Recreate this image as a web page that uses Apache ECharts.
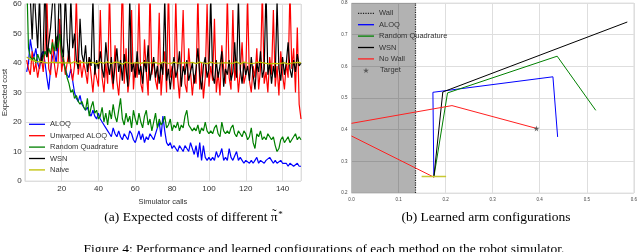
<!DOCTYPE html>
<html><head><meta charset="utf-8">
<script src="https://cdn.jsdelivr.net/npm/echarts@6/dist/echarts.min.js"></script>
<style>html,body{margin:0;padding:0;background:#fff}#c{width:640px;height:252px}</style>
</head><body><div id="c"></div>
<script>
// ---- Left panel: expected cost vs simulator calls ----
const aloq = [37,40,48,44,42,45,40,38,43,44, 40,35,31,38,42,44,40,46,53,42,
  40,38,36,35,38,34,30,28,27,29, 26,25,24,25,23,22,24,22,21,23,
  21,20,19,18,17,16,15,18,16,15, 17,15,14,16,15,14,17,16,14,13,
  15,17,14,16,13,15,14,16,15,14, 16,18,20,15,22,17,13,12,13,11,
  12,11,10,12,11,10,12,11,10,13, 13,9,12,8,13,7,12,8,7,8,
  7,8,7,10,8,9,11,7,8,7, 11,8,7,7,10,7,8,7,6,7,
  7,6,7,6,7,8,6,7,7,6, 7,7,8,7,6,7,6,6,7,6,
  6,6,5,6,6,5,5,6,5,5];
const unwarped = [41,38,36,44,37,40,35,39,42,37, 45,62,38,36,48,40,35,39,55,37,
  42,36,40,44,38,34,39,63,36,41, 35,40,37,33,42,36,30,38,35,32,
  58,35,30,40,33,65,36,31,46,34, 29,38,70,33,45,30,36,58,31,40,
  35,62,33,30,48,37,29,65,36,41, 34,31,57,29,38,44,30,66,35,39,
  31,62,35,28,40,58,33,30,45,37, 29,36,33,64,31,40,28,35,60,32,
  39,34,55,30,37,29,46,38,33,63, 35,31,58,34,40,30,37,47,33,36,
  62,34,30,39,35,45,31,38,65,33, 37,30,42,36,58,32,39,29,44,36,
  31,40,35,65,38,45,30,52,26,21];
const randomQuad = [70,45,42,41,42,40,43,41,40,42, 44,42,45,43,47,44,49,45,50,43,
  41,38,35,33,30,31,28,29,27,26, 27,25,24,28,22,25,27,23,24,21,
  22,25,20,23,19,24,21,26,22,20, 24,28,21,19,23,20,22,18,24,21,
  19,23,20,18,22,24,19,21,17,20, 23,18,21,19,20,22,18,19,21,17,
  19,18,20,17,19,18,22,24,19,18, 17,18,17,19,16,18,17,20,17,16,
  17,16,18,19,16,15,20,17,16,17, 16,18,19,16,15,17,16,15,17,16,
  14,15,18,13,11,16,15,17,14,15, 14,16,15,14,15,12,10,11,14,15,
  13,14,15,13,14,15,16,14,15,14];
const wsn = [65,70,62,48,66,55,45,63,40,44, 68,42,47,52,60,65,44,50,70,46,
  42,64,48,40,62,45,50,41,38,55, 43,40,46,37,42,39,62,36,41,38,
  44,38,35,47,40,36,42,33,39,45, 37,41,34,43,38,32,62,37,40,35,
  44,36,39,33,41,37,46,34,38,42, 35,39,33,40,36,62,34,38,31,37,
  42,35,38,44,32,39,36,41,34,37, 40,33,38,45,36,31,39,42,35,38,
  62,36,33,41,35,39,44,32,38,36, 41,34,37,47,35,62,38,33,40,36,
  39,34,42,36,31,40,37,44,35,38, 65,36,40,33,39,35,61,38,34,42,
  36,40,47,38,35,41,37,43,39,40];
const naive = [42.0,41.6,41.2,41.0,40.7,40.6,40.4,40.3,40.5,40.2,
  40.1,40.4,40.0,39.8,40.3,40.5,40.1,39.9,40.2,40.4, 40.0,39.7,40.1,40.3,39.9,40.2,40.5,40.0,39.8,40.1,
  40.3,39.9,40.0,40.4,40.1,39.8,40.2,40.0,39.7,40.1, 40.3,40.0,39.9,40.2,40.4,40.0,39.8,40.1,40.3,39.9,
  40.2,40.0,39.6,40.1,40.3,40.0,39.9,40.2,40.0,39.8, 40.1,40.3,39.9,40.0,40.2,39.8,40.1,40.4,40.0,39.9,
  40.2,40.0,39.7,40.1,40.3,39.9,40.0,40.2,39.8,40.1, 40.3,40.0,39.9,40.2,40.0,39.7,40.1,40.4,40.0,39.9,
  40.2,40.0,39.8,40.1,40.3,39.9,40.0,40.2,39.8,40.0, 40.3,40.1,39.9,40.2,40.0,39.7,40.0,40.3,40.1,39.8,
  40.0,40.2,39.9,40.1,40.4,40.0,39.7,40.1,40.3,39.9, 40.0,40.2,39.8,40.1,40.0,39.9,40.3,40.6,40.1,39.8,
  39.9,40.0,39.7,39.6,39.9,40.1,39.8,40.0,39.9,40.2, 40.1,39.8,39.6,39.8,40.0,40.3,40.1,39.9,40.2,40.0];
const costTicksY = [0, 60, 10];
const callsTicksX = [0, 150, 20];

// ---- Right panel: learned arm configurations ----
const wallX = 0.136;
const wallLine = [[wallX, 0.2], [wallX, 0.8]];
const armALOQ = [[0.175, 0.25], [0.173, 0.518], [0.428, 0.567], [0.438, 0.377]];
const armRQ = [[0.175, 0.25], [0.204, 0.516], [0.437, 0.632], [0.519, 0.461]];
const armWSN = [[0.175, 0.25], [0.194, 0.519], [0.586, 0.740]];
const armNoWall = [[0.0, 0.38], [0.175, 0.25], null, [0.0, 0.42], [0.2135, 0.476], [0.393, 0.404]];
const armBase = [[0.149, 0.252], [0.201, 0.252]];
const target = [[0.393, 0.404]];

const withX = arr => arr.map((v, i) => [i + 1, v]);
const F = '"Liberation Sans", Arial, sans-serif';
const LINE_ICON = 'path://M0,0L16,0L16,1.3L0,1.3Z';
const STAR = 'path://M50,0L61,35L98,35L68,57L79,91L50,70L21,91L32,57L2,35L39,35Z';
let dots = '';
for (let k = 0; k < 7; k++) dots += 'M' + (k * 2.4) + ',0h1.2v1.2h-1.2z';
const DOT_ICON = 'path://' + dots;

// caption (a) layout: measure text so the accent and star sit on the pi
const CAP_FONT = '13.5px "Liberation Serif", serif';
const cv = document.createElement('canvas').getContext('2d');
cv.font = CAP_FONT;
const capMain = '(a) Expected costs of different ';
const wMain = cv.measureText(capMain).width;
const wPi = cv.measureText('π').width;
const capTotal = wMain + wPi + 4;
const capX0 = 193 - capTotal / 2;

const chart = echarts.init(document.getElementById('c'), null, {renderer: 'canvas'});
const gridLine = {show: true, lineStyle: {color: '#dedede', width: 1}};
const lineS = (name, data, color, w, xi) => ({
  type: 'line', name, data, xAxisIndex: xi, yAxisIndex: xi, symbol: 'none',
  lineStyle: {color, width: w}, itemStyle: {color}, animation: false, clip: true, connectNulls: false, z: 3
});
const legTxt = {fontFamily: F, fontSize: 7.5, color: '#333', lineHeight: 8};
const li = (name) => ({name, icon: LINE_ICON});
chart.setOption({
  animation: false,
  grid: [
    {left: 21, top: 4, width: 280, height: 177, show: true, borderColor: '#e2e2e2', borderWidth: 1},
    {left: 351.5, top: 3, width: 284, height: 190, show: true, borderColor: '#e2e2e2', borderWidth: 1}
  ],
  xAxis: [
    {type: 'value', gridIndex: 0, min: callsTicksX[0], max: callsTicksX[1], interval: callsTicksX[2],
     name: 'Simulator calls', nameLocation: 'middle', nameGap: 13,
     nameTextStyle: {fontFamily: F, fontSize: 7.5, color: '#333'},
     axisLine: {show: false}, axisTick: {show: false}, splitLine: gridLine,
     axisLabel: {fontFamily: F, fontSize: 8, color: '#333', margin: 4, showMinLabel: false, showMaxLabel: false}},
    {type: 'value', gridIndex: 1, min: 0, max: 0.6, interval: 0.1,
     axisLine: {show: false}, axisTick: {show: false}, splitLine: gridLine,
     axisLabel: {fontFamily: F, fontSize: 4.5, color: '#444', margin: 4, formatter: v => v.toFixed(1)}}
  ],
  yAxis: [
    {type: 'value', gridIndex: 0, min: costTicksY[0], max: costTicksY[1], interval: costTicksY[2],
     name: 'Expected cost', nameLocation: 'middle', nameGap: 13, nameRotate: 90,
     nameTextStyle: {fontFamily: F, fontSize: 7.5, color: '#333'},
     axisLine: {show: false}, axisTick: {show: false}, splitLine: gridLine,
     axisLabel: {fontFamily: F, fontSize: 8, color: '#333', margin: 3}},
    {type: 'value', gridIndex: 1, min: 0.2, max: 0.8, interval: 0.1,
     axisLine: {show: false}, axisTick: {show: false}, splitLine: gridLine,
     axisLabel: {fontFamily: F, fontSize: 4.5, color: '#444', margin: 4, formatter: v => v.toFixed(1)}}
  ],
  legend: [
    {data: [li('ALOQ'), li('Unwarped ALOQ'), li('Random Quadrature'), li('WSN'), li('Naive')],
     orient: 'vertical', left: 29, top: 120.3, padding: 0, itemWidth: 16, itemHeight: 8, itemGap: 3.4,
     textStyle: legTxt, selectedMode: false},
    {data: [{name: 'Wall', icon: DOT_ICON}, li('ALOQ'), li('Random Quadrature'), li('WSN'), li('No Wall')],
     orient: 'vertical', left: 358, top: 9.3, padding: 0, itemWidth: 16, itemHeight: 8, itemGap: 3.4,
     textStyle: legTxt, selectedMode: false},
    {data: [{name: 'Target', icon: STAR}],
     orient: 'vertical', left: 363, top: 66.3, padding: 0, itemWidth: 6, itemHeight: 6,
     textStyle: Object.assign({}, legTxt, {padding: [0, 0, 0, 6]}), selectedMode: false}
  ],
  series: [
    lineS('ALOQ', withX(aloq), '#0000ff', 1.2, 0),
    lineS('Unwarped ALOQ', withX(unwarped), '#ff0000', 1.2, 0),
    lineS('Random Quadrature', withX(randomQuad), '#008000', 1.2, 0),
    lineS('WSN', withX(wsn), '#000000', 1.2, 0),
    lineS('Naive', withX(naive), '#bfbf00', 1.2, 0),
    Object.assign(lineS('Wall', wallLine, '#222', 1.2, 1), {
      lineStyle: {color: '#222', width: 1.2, type: 'dotted'},
      markArea: {silent: true, itemStyle: {color: 'rgba(0,0,0,0.3)'},
        data: [[{coord: [0, 0.2]}, {coord: [wallX, 0.8]}]]}
    }),
    lineS('ALOQ', armALOQ, '#0000ff', 1, 1),
    lineS('Random Quadrature', armRQ, '#008000', 1, 1),
    lineS('WSN', armWSN, '#000000', 1, 1),
    lineS('No Wall', armNoWall, '#ff2020', 1, 1),
    lineS('base', armBase, '#c8c832', 1.6, 1),
    {type: 'scatter', name: 'Target', data: target, xAxisIndex: 1, yAxisIndex: 1,
     symbol: STAR, symbolSize: 6, itemStyle: {color: '#444'}, z: 4}
  ],
  graphic: [
    {type: 'text', x: capX0, y: 210.5, style: {text: capMain + 'π', font: CAP_FONT, fill: '#000', align: 'left'}},
    {type: 'text', x: capX0 + wMain + wPi / 2, y: 207.5, style: {text: '˜', font: CAP_FONT, fill: '#000', align: 'center'}},
    {type: 'text', x: capX0 + wMain + wPi + 0.5, y: 210, style: {text: '*', font: '9px "Liberation Serif", serif', fill: '#000', align: 'left'}},
    {type: 'text', x: 486, y: 210.5, style: {text: '(b) Learned arm configurations', font: CAP_FONT, fill: '#000', align: 'center'}},
    {type: 'text', x: 324, y: 242, style: {text: 'Figure 4: Performance and learned configurations of each method on the robot simulator.',
      font: CAP_FONT, fill: '#000', align: 'center'}}
  ]
});
</script></body></html>
